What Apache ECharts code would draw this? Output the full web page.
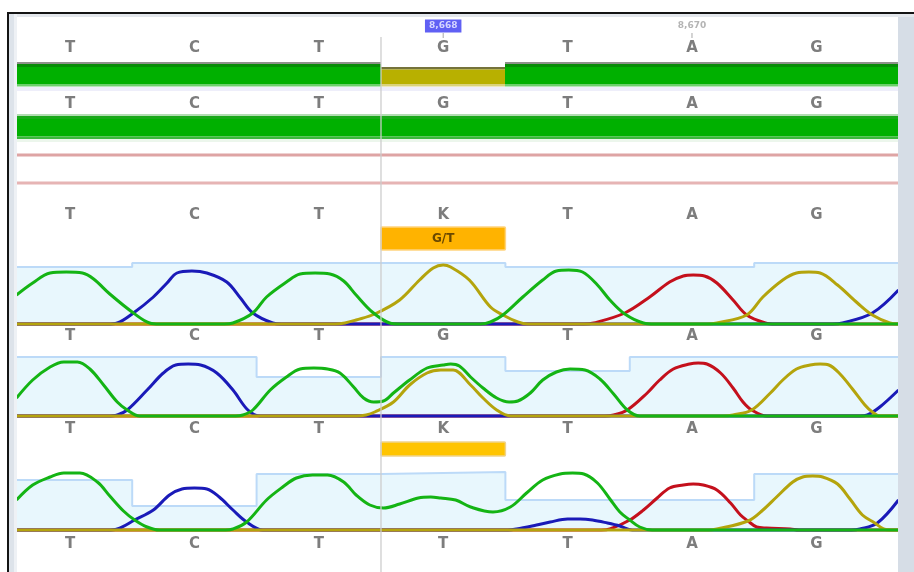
<!DOCTYPE html>
<html><head><meta charset="utf-8">
<script src="https://cdn.jsdelivr.net/npm/echarts@6/dist/echarts.min.js"></script>
<style>html,body{margin:0;padding:0;background:#fff}#c{width:914px;height:572px}</style>
</head><body><div id="c"></div>
<script>
// ---------- data ----------
const consensusBases = ['T','C','T','G','T','A','G'];
const referenceBases = ['T','C','T','G','T','A','G'];
const callBases      = ['T','C','T','K','T','A','G'];
const read1Calls     = ['T','C','T','G','T','A','G'];
const read2Calls     = ['T','C','T','K','T','A','G'];
const read3Calls     = ['T','C','T','T','T','A','G'];
const consensusIdentity = [100,100,100,50,100,100,100];
const referenceIdentity = [100,100,100,100,100,100,100];
const mixedBases  = [3];
const mixedLabels = ['G/T'];
const positionBases  = [3,5];
const positionLabels = ['8,668','8,670'];
const cursorBase = 2.5;

const read1Quality = [57,61,61,61,57,57,61];
const read2Quality = [59,59,39,59,45,59,59];
const read3Quality = [50,24,56,58,30,30,56];

// traces: [base position, signal]
const r1T = [[-0.43,29],[-0.3,41],[-0.16,51],[-0.03,52],[0.1,51],[0.19,45],[0.32,30],[0.51,11],[0.64,1],[0.72,0],
 [1.24,0],[1.31,1],[1.47,11],[1.58,27],[1.74,42],[1.85,50],[1.97,51],[2.09,50],[2.2,43],[2.3,29],[2.43,12],[2.57,1],[2.65,0],
 [3.3,0],[3.38,2],[3.48,9],[3.64,27],[3.8,44],[3.91,53],[4.01,54],[4.12,52],[4.24,39],[4.34,24],[4.46,10],[4.61,1],[4.7,0],[6.66,0]];
const r1C = [[-0.43,0],[0.3,0],[0.38,1],[0.51,11],[0.67,27],[0.78,41],[0.86,51],[0.98,53],[1.1,51],[1.26,42],[1.37,26],[1.47,11],[1.63,1],[1.7,0],
 [6.13,0],[6.21,1],[6.45,11],[6.66,34]];
const r1G = [[-0.43,0],[2.13,0],[2.21,1],[2.3,4],[2.45,10],[2.65,24],[2.81,44],[2.92,56],[3.0,59],[3.06,57],[3.21,44],[3.38,17],[3.48,9],[3.6,2],[3.68,0],
 [5.12,0],[5.2,1],[5.44,9],[5.57,27],[5.73,44],[5.84,51],[5.94,52],[6.03,51],[6.17,39],[6.33,21],[6.45,9],[6.59,1],[6.66,0]];
const r1A = [[-0.43,0],[4.13,0],[4.21,1],[4.46,11],[4.66,27],[4.82,42],[4.93,48],[5.01,49],[5.1,48],[5.2,41],[5.33,24],[5.44,9],[5.59,1],[5.67,0],[6.66,0]];

const r2T = [[-0.43,18],[-0.3,36],[-0.16,49],[-0.05,54],[0.06,54],[0.16,47],[0.27,31],[0.38,14],[0.46,6],[0.56,0],[0.62,0],
 [1.33,0],[1.39,1],[1.47,6],[1.61,26],[1.74,39],[1.85,47],[1.96,48],[2.07,47],[2.17,43],[2.28,29],[2.36,18],[2.44,14],[2.52,15],[2.6,23],[2.73,36],[2.87,48],[3.0,51],[3.06,52],[3.13,50],[3.22,39],[3.32,28],[3.43,18],[3.53,14],[3.6,15],[3.7,23],[3.8,36],[3.91,44],[4.02,47],[4.14,46],[4.26,37],[4.37,22],[4.48,6],[4.58,0],[4.65,0],[6.66,0]];
const r2G = [[-0.43,0],[2.3,0],[2.38,1],[2.45,4],[2.6,14],[2.73,31],[2.87,43],[2.98,46],[3.08,46],[3.22,31],[3.32,18],[3.43,6],[3.54,0],[3.6,0],
 [5.25,0],[5.33,1],[5.48,6],[5.63,23],[5.73,36],[5.84,47],[5.95,51],[6.03,52],[6.1,51],[6.19,42],[6.29,27],[6.39,11],[6.45,4],[6.51,0],[6.66,0]];
const r2C = [[-0.43,0],[0.3,0],[0.38,1],[0.46,6],[0.62,26],[0.75,43],[0.85,51],[0.95,52],[1.05,51],[1.18,43],[1.31,26],[1.43,6],[1.53,0],[1.6,0],
 [6.35,0],[6.41,1],[6.51,9],[6.66,26]];
const r2A = [[-0.43,0],[4.3,0],[4.37,1],[4.48,6],[4.64,23],[4.74,36],[4.85,47],[4.98,52],[5.05,53],[5.12,52],[5.23,43],[5.33,28],[5.41,14],[5.48,6],[5.6,0],[5.67,0],[6.66,0]];

const r3T = [[-0.43,30],[-0.3,45],[-0.16,53],[-0.05,57],[0.08,57],[0.22,48],[0.32,34],[0.43,19],[0.52,10],[0.62,3],[0.72,0],
 [1.25,0],[1.31,1],[1.42,8],[1.58,30],[1.71,43],[1.82,52],[1.95,55],[2.07,55],[2.2,48],[2.3,35],[2.41,25],[2.52,22],[2.65,26],[2.8,32],[2.9,33],[2.98,32],[3.1,30],[3.22,23],[3.4,18],[3.54,23],[3.67,37],[3.8,50],[3.94,56],[4.04,57],[4.13,56],[4.24,47],[4.34,31],[4.42,18],[4.5,10],[4.58,3],[4.68,0],[6.66,0]];
const r3C = [[-0.43,0],[0.3,0],[0.38,1],[0.52,10],[0.67,20],[0.8,35],[0.9,41],[1.0,42],[1.1,41],[1.2,33],[1.31,20],[1.42,8],[1.55,0],[1.62,0],
 [3.52,0],[3.59,1],[3.75,5],[3.86,8],[4.0,11],[4.1,11],[4.2,10],[4.32,7],[4.42,4],[4.52,0],[4.6,0],
 [6.28,0],[6.35,1],[6.49,7],[6.66,30]];
const r3A = [[-0.43,0],[4.27,0],[4.34,1],[4.5,10],[4.61,20],[4.72,32],[4.82,42],[4.93,45],[5.01,46],[5.09,45],[5.2,40],[5.31,27],[5.39,15],[5.45,9],[5.52,3],[5.6,2],[5.79,1],[5.86,0],[6.66,0]];
const r3G = [[-0.43,0],[5.13,0],[5.2,1],[5.45,9],[5.57,20],[5.68,33],[5.81,48],[5.89,53],[5.97,54],[6.05,53],[6.17,46],[6.27,31],[6.37,15],[6.47,7],[6.54,1],[6.6,0],[6.66,0]];

// ---------- layout / style ----------
const X_MIN = -0.426, X_MAX = 6.656;
const COL = {A:'#c4101c', C:'#1a1ab8', G:'#b4a40c', T:'#14b414'};
const LETTER_FONT = 'bold 15px "DejaVu Sans", sans-serif';
const LETTER_FILL = '#7d7d7d';
const ROW = {pos:26, r1:48.5, bar1:[62,86.5], r2:104, bar2:[114,139], r3:215, het1:[227,250], u1:336, u2:429, het2:[442,456], u3:544};

const chart = echarts.init(document.getElementById('c'), null, {renderer:'canvas'});

function xEdges(i, n){ return [i === 0 ? X_MIN : i - 0.5, i === n - 1 ? X_MAX : i + 0.5]; }

function letterRow(letters, y){
  return {type:'custom', xAxisIndex:0, yAxisIndex:0, silent:true, z:6,
    data: letters.map((l,i)=>[i, 0]),
    renderItem:(p, api)=>{
      const pt = api.coord([api.value(0), y]);
      return {type:'text', x:pt[0], y:pt[1],
        style:{text:letters[p.dataIndex], fill:LETTER_FILL, font:LETTER_FONT, align:'center', verticalAlign:'middle'}};
    }};
}

function identityBar(values, yr, matchBands, mismatchBands){
  return {type:'custom', xAxisIndex:0, yAxisIndex:0, silent:true, z:3,
    data: values.map((v,i)=>[i, v]),
    renderItem:(p, api)=>{
      const i = api.value(0), v = api.value(1);
      const e = xEdges(i, values.length);
      const L = Math.round(api.coord([e[0], 0])[0]), R = Math.round(api.coord([e[1], 0])[0]);
      const bands = v >= 100 ? matchBands : mismatchBands;
      return {type:'group', children: bands.map(b=>{
        const t = api.coord([0, b[0]])[1], btm = api.coord([0, b[1]])[1];
        return {type:'rect', shape:{x:L, y:t, width:R-L, height:btm-t}, style:{fill:b[2]}};
      })};
    }};
}

function mixedBox(bases, labels, yr, fill, stroke, withText){
  return {type:'custom', xAxisIndex:0, yAxisIndex:0, silent:true, z:4,
    data: bases.map(b=>[b, 0]),
    renderItem:(p, api)=>{
      const b = api.value(0);
      const a = api.coord([b-0.5, yr[0]]), c = api.coord([b+0.5, yr[1]]);
      const kids = [{type:'rect', shape:{x:a[0], y:a[1], width:c[0]-a[0], height:c[1]-a[1], r:1}, style:{fill:fill, stroke:stroke, lineWidth:1.5}}];
      if (withText) kids.push({type:'text', x:(a[0]+c[0])/2, y:(a[1]+c[1])/2,
        style:{text:labels[p.dataIndex], fill:'#6a4800', font:'bold 12px "DejaVu Sans", sans-serif', align:'center', verticalAlign:'middle'}});
      return {type:'group', children:kids};
    }};
}

function qualitySeries(q, idx){
  const pts = [[X_MIN, q[0]]];
  for (let i = 1; i < q.length; i++) pts.push([i - 0.5, q[i]]);
  pts.push([X_MAX, q[q.length-1]]);
  return {type:'line', xAxisIndex:idx, yAxisIndex:idx, step:'end', data:pts, symbol:'none', silent:true, z:1,
    lineStyle:{color:'#bcdaf8', width:2}, areaStyle:{color:'#e8f7fd', opacity:1, origin:'start'}};
}

function traceSeries(d, base, idx, z){
  return {type:'line', xAxisIndex:idx, yAxisIndex:idx, data:d, symbol:'none', smooth:0.35, clip:false, silent:true, z:z,
    lineStyle:{color:COL[base], width:3}};
}

const gridL = 17, gridW = 881;
const option = {
  animation:false,
  backgroundColor:'#ffffff',
  grid:[
    {left:gridL, width:gridW, top:14, height:558},
    {left:gridL, width:gridW, top:262, height:62},
    {left:gridL, width:gridW, top:354, height:62},
    {left:gridL, width:gridW, top:468, height:62}
  ],
  xAxis:[0,1,2,3].map(g=>({type:'value', gridIndex:g, min:X_MIN, max:X_MAX, show:false})),
  yAxis:[
    {type:'value', gridIndex:0, min:14, max:572, inverse:true, show:false},
    {type:'value', gridIndex:1, min:0, max:62, show:false},
    {type:'value', gridIndex:2, min:0, max:62, show:false},
    {type:'value', gridIndex:3, min:0, max:62, show:false}
  ],
  graphic:[
    {type:'rect', shape:{x:9, y:14, width:905, height:3}, style:{fill:'#e3e7ec'}, z:100},
    {type:'rect', shape:{x:9, y:14, width:8, height:558}, style:{fill:'#dde3ea'}, z:100},
    {type:'rect', shape:{x:14, y:14, width:3, height:558}, style:{fill:'#eef1f5'}, z:100},
    {type:'rect', shape:{x:898, y:17, width:16, height:555}, style:{fill:'#d6dde6'}, z:100},
    {type:'rect', shape:{x:7, y:12, width:907, height:2}, style:{fill:'#141414'}, z:101},
    {type:'rect', shape:{x:7, y:12, width:2, height:560}, style:{fill:'#141414'}, z:101},
    {type:'rect', shape:{x:17, y:87, width:881, height:4}, style:{fill:'#eeeefa'}, z:0},
    {type:'rect', shape:{x:17, y:139, width:881, height:3}, style:{fill:'#ecf6ec'}, z:0},
    {type:'rect', shape:{x:17, y:153.5, width:881, height:3}, style:{fill:'#dea4a4'}, z:0},
    {type:'rect', shape:{x:17, y:181.5, width:881, height:3}, style:{fill:'#e6b4b4'}, z:0}
  ],
  series:[
    // position ruler
    {type:'custom', xAxisIndex:0, yAxisIndex:0, silent:true, z:6,
      data: positionBases.map(b=>[b, 0]),
      renderItem:(p, api)=>{
        const pt = api.coord([api.value(0), ROW.pos]);
        const first = p.dataIndex === 0;
        return {type:'group', children:[
          {type:'line', shape:{x1:pt[0], y1:pt[1]+7, x2:pt[0], y2:pt[1]+12}, style:{stroke:'#a8a8a8', lineWidth:1}},
          {type:'text', x:pt[0], y:pt[1], style:{text:positionLabels[p.dataIndex],
            fill: first ? '#d6d6ff' : '#b4b4b4', backgroundColor: first ? '#6060f4' : null,
            padding: first ? [2,4] : [2,2], font:'bold 9px "DejaVu Sans", sans-serif', align:'center', verticalAlign:'middle'}}
        ]};
      }},
    letterRow(consensusBases, ROW.r1),
    identityBar(consensusIdentity, ROW.bar1,
      [[62,64,'#8e918a'],[64,67,'#078c07'],[67,84,'#00b000'],[84,86.5,'#6ccf6c']],
      [[67,69.5,'#75733a'],[69.5,84,'#b8b000'],[84,86.5,'#d9d27a']]),
    letterRow(referenceBases, ROW.r2),
    identityBar(referenceIdentity, ROW.bar2,
      [[114,116,'#b2dcb2'],[116,119,'#18a818'],[119,136.5,'#00b000'],[136.5,139,'#3cb83c']],
      [[114,139,'#b8b000']]),
    letterRow(callBases, ROW.r3),
    mixedBox(mixedBases, mixedLabels, ROW.het1, '#ffb300', '#ffd47e', true),
    qualitySeries(read1Quality, 1),
    traceSeries(r1A, 'A', 1, 2), traceSeries(r1C, 'C', 1, 3), traceSeries(r1G, 'G', 1, 4), traceSeries(r1T, 'T', 1, 5),
    letterRow(read1Calls, ROW.u1),
    qualitySeries(read2Quality, 2),
    traceSeries(r2A, 'A', 2, 2), traceSeries(r2C, 'C', 2, 3), traceSeries(r2G, 'G', 2, 4), traceSeries(r2T, 'T', 2, 5),
    letterRow(read2Calls, ROW.u2),
    mixedBox(mixedBases, mixedLabels, ROW.het2, '#ffc400', '#efd38c', false),
    qualitySeries(read3Quality, 3),
    traceSeries(r3A, 'A', 3, 2), traceSeries(r3C, 'C', 3, 3), traceSeries(r3G, 'G', 3, 4), traceSeries(r3T, 'T', 3, 5),
    letterRow(read3Calls, ROW.u3),
    // cursor
    {type:'custom', xAxisIndex:0, yAxisIndex:0, silent:true, z:20,
      data:[[cursorBase, 0]],
      renderItem:(p, api)=>{
        const a = api.coord([api.value(0), 37]), b = api.coord([api.value(0), 572]);
        return {type:'line', shape:{x1:a[0], y1:a[1], x2:b[0], y2:b[1]}, style:{stroke:'rgba(205,205,205,0.85)', lineWidth:1.5}};
      }}
  ]
};
chart.setOption(option);
</script></body></html>
